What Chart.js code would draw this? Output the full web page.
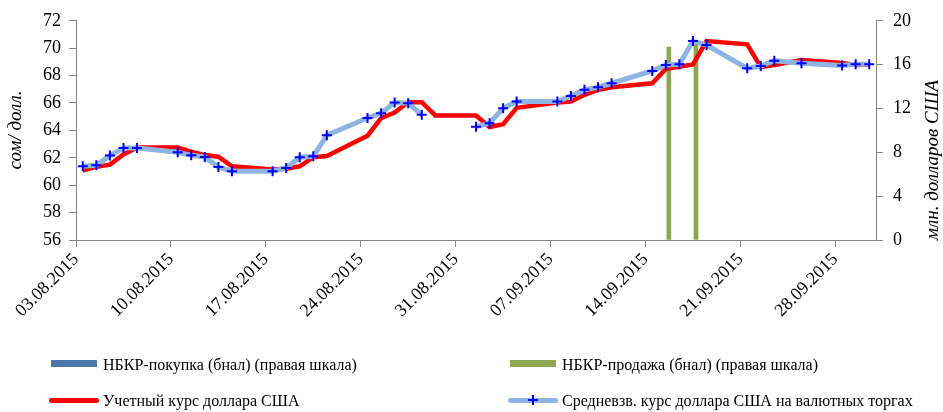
<!DOCTYPE html>
<html>
<head>
<meta charset="utf-8">
<script src="https://cdn.jsdelivr.net/npm/chart.js@4"></script>
<style>
  html, body { margin: 0; padding: 0; background: #fff; }
  #wrap { position: relative; width: 943px; height: 412px; }
  #legend { position: absolute; left: 0; top: 0; width: 943px; height: 412px; pointer-events: none;
            font-family: "Liberation Serif", "Times New Roman", serif; font-size: 16px; color: #000; }
  .item { position: absolute; white-space: nowrap; line-height: 18px; }
  .sw { position: absolute; }
</style>
</head>
<body>
<div id="wrap">
  <canvas id="chart" width="943" height="412"></canvas>
  <div id="legend"></div>
</div>
<script>
// x axis: daily, 03.08.2015 .. 30.09.2015
const xTickLabels = ['03.08.2015', '10.08.2015', '17.08.2015', '24.08.2015', '31.08.2015',
                     '07.09.2015', '14.09.2015', '21.09.2015', '28.09.2015'];

// Средневзв. курс доллара США на валютных торгах (31.08 - no trading, gap in line)
const avgDates = ['03.08', '04.08', '05.08', '06.08', '07.08', '10.08', '11.08', '12.08', '13.08', '14.08',
                  '17.08', '18.08', '19.08', '20.08', '21.08', '24.08', '25.08', '26.08', '27.08', '28.08',
                  '31.08', '01.09', '02.09', '03.09', '04.09', '07.09', '08.09', '09.09', '10.09', '11.09',
                  '14.09', '15.09', '16.09', '17.09', '18.09', '21.09', '22.09', '23.09', '25.09',
                  '28.09', '29.09', '30.09'];
const avgRate = [61.38, 61.45, 62.16, 62.71, 62.71, 62.40, 62.18, 62.06, 61.33, 61.02,
                 61.02, 61.26, 62.04, 62.11, 63.65, 64.90, 65.26, 66.04, 65.99, 65.14,
                 null, 64.27, 64.53, 65.62, 66.11, 66.11, 66.52, 66.96, 67.15, 67.44,
                 68.34, 68.78, 68.82, 70.52, 70.23, 68.53, 68.70, 69.09, 68.90,
                 68.73, 68.82, 68.82];

// Учетный курс доллара США
const officialDates = ['03.08', '04.08', '05.08', '06.08', '07.08', '10.08', '11.08', '12.08', '13.08', '14.08',
                       '17.08', '18.08', '19.08', '20.08', '21.08', '24.08', '25.08', '26.08', '27.08', '28.08',
                       '29.08', '01.09', '02.09', '03.09', '04.09', '07.09', '08.09', '09.09', '10.09', '11.09',
                       '14.09', '15.09', '16.09', '17.09', '18.09', '21.09', '22.09', '23.09', '25.09',
                       '28.09', '29.09', '30.09'];
const officialRate = [61.07, 61.35, 61.50, 62.25, 62.75, 62.75, 62.45, 62.20, 62.08, 61.38,
                      61.15, 61.20, 61.38, 62.04, 62.13, 63.61, 64.90, 65.30, 66.06, 66.06,
                      65.09, 65.09, 64.25, 64.45, 65.65, 66.04, 66.10, 66.60, 66.96, 67.15,
                      67.44, 68.49, 68.65, 68.82, 70.52, 70.28, 68.62, 68.78, 69.14,
                      68.92, 68.78, 68.80];

// НБКР интервенции, млн. долларов США (правая шкала)
const buyDates = [];
const buyVolume = [];
const sellDates = ['15.09', '17.09'];
const sellVolume = [17.6, 18.0];

const START = new Date(2015, 7, 3);
function dayOffset(s) {
    const p = s.split('.').map(Number);
    return Math.round((new Date(2015, p[1] - 1, p[0]) - START) / 864e5);
}
// points sit in the middle of their day
const toPoints = (dates, vals) => dates.map((d, i) => ({ x: dayOffset(d) + 0.5, y: vals[i] }));
const tickDays = xTickLabels.map(dayOffset);

const axisColor = '#868686';
const serif = '"Liberation Serif", "Times New Roman", serif';
const tickFont = { family: serif, size: 18 };

const axisTitles = {
    id: 'axisTitles',
    afterDraw(chart) {
        const ctx = chart.ctx;
        const draw = (text, x, y) => {
            ctx.save();
            ctx.font = 'italic 19px ' + serif;
            ctx.fillStyle = '#000';
            ctx.textAlign = 'center';
            ctx.textBaseline = 'middle';
            ctx.translate(x, y);
            ctx.rotate(-Math.PI / 2);
            ctx.fillText(text, 0, 0);
            ctx.restore();
        };
        draw('сом/ долл.', 16, 130);
        draw('млн. долларов США', 933, 160);
    }
};

const chart = new Chart(document.getElementById('chart'), {
    type: 'line',
    data: {
        datasets: [
            {
                type: 'bar',
                label: 'НБКР-покупка (бнал) (правая шкала)',
                data: toPoints(buyDates, buyVolume),
                backgroundColor: '#4A76AA',
                yAxisID: 'y1',
                barThickness: 6,
                maxBarThickness: 4,
                order: 2
            },
            {
                type: 'bar',
                label: 'НБКР-продажа (бнал) (правая шкала)',
                data: toPoints(sellDates, sellVolume),
                backgroundColor: '#8DA64F',
                yAxisID: 'y1',
                barThickness: 6,
                maxBarThickness: 4,
                order: 3
            },
            {
                label: 'Учетный курс доллара США',
                data: toPoints(officialDates, officialRate),
                borderColor: '#FF0000',
                borderWidth: 4.5,
                pointRadius: 0,
                tension: 0,
                yAxisID: 'y',
                order: 1
            },
            {
                label: 'Средневзв. курс доллара США на валютных торгах',
                data: toPoints(avgDates, avgRate),
                borderColor: '#8DB4E2',
                borderWidth: 5,
                pointStyle: 'cross',
                pointRadius: 5,
                pointBorderColor: '#0000FF',
                pointBorderWidth: 2,
                tension: 0,
                spanGaps: false,
                yAxisID: 'y',
                order: 0
            }
        ]
    },
    options: {
        responsive: false,
        animation: false,
        devicePixelRatio: 1,
        layout: { padding: { top: 19, left: 0, right: 0, bottom: 0 } },
        plugins: { legend: { display: false }, tooltip: { enabled: false } },
        scales: {
            x: {
                type: 'linear',
                offset: false,
                min: 0,
                max: 59,
                afterBuildTicks: (s) => { s.ticks = tickDays.map(v => ({ value: v })); },
                afterFit: (s) => { s.height = 172; },
                ticks: {
                    autoSkip: false,
                    minRotation: 45,
                    maxRotation: 45,
                    color: '#000',
                    font: tickFont,
                    padding: 2,
                    callback: (v) => xTickLabels[tickDays.indexOf(v)]
                },
                grid: { offset: false, drawOnChartArea: false, drawTicks: true, tickLength: 7, color: axisColor },
                border: { color: axisColor, width: 1 }
            },
            y: {
                position: 'left',
                min: 56,
                max: 72,
                afterFit: (s) => { s.width = 76; },
                ticks: { stepSize: 2, color: '#000', font: tickFont, padding: 8 },
                grid: { drawOnChartArea: false, drawTicks: true, tickLength: 7, color: axisColor },
                border: { color: axisColor, width: 1 }
            },
            y1: {
                position: 'right',
                min: 0,
                max: 20,
                afterFit: (s) => { s.width = 67; },
                ticks: { stepSize: 4, color: '#000', font: tickFont, padding: 10 },
                grid: { drawOnChartArea: false, drawTicks: true, tickLength: 7, color: axisColor },
                border: { color: axisColor, width: 1 }
            }
        }
    },
    plugins: [axisTitles]
});

// legend: two columns, two rows, as in the source
const legendSlots = [
    { left: 51, top: 364 },
    { left: 510, top: 364 },
    { left: 51, top: 400 },
    { left: 510, top: 400 }
];
const legend = document.getElementById('legend');
chart.data.datasets.forEach((ds, i) => {
    const slot = legendSlots[i];
    const sw = document.createElement('div');
    sw.className = 'sw';
    if (ds.type === 'bar') {
        sw.style.cssText = `left:${slot.left}px;top:${slot.top - 4}px;width:46px;height:7px;background:${ds.backgroundColor};`;
    } else {
        sw.style.cssText = `left:${slot.left - 2}px;top:${slot.top - 2.5}px;width:50px;height:5px;border-radius:3px;background:${ds.borderColor};`;
    }
    legend.appendChild(sw);
    if (ds.pointStyle === 'cross') {
        const v = document.createElement('div');
        v.className = 'sw';
        v.style.cssText = `left:${slot.left + 22}px;top:${slot.top - 5}px;width:2px;height:10px;background:${ds.pointBorderColor};`;
        legend.appendChild(v);
        const h = document.createElement('div');
        h.className = 'sw';
        h.style.cssText = `left:${slot.left + 18}px;top:${slot.top - 1}px;width:10px;height:2px;background:${ds.pointBorderColor};`;
        legend.appendChild(h);
    }
    const tx = document.createElement('div');
    tx.className = 'item';
    tx.textContent = ds.label;
    tx.style.left = (slot.left + 52) + 'px';
    tx.style.top = (slot.top - 8) + 'px';
    legend.appendChild(tx);
});
</script>
</body>
</html>
